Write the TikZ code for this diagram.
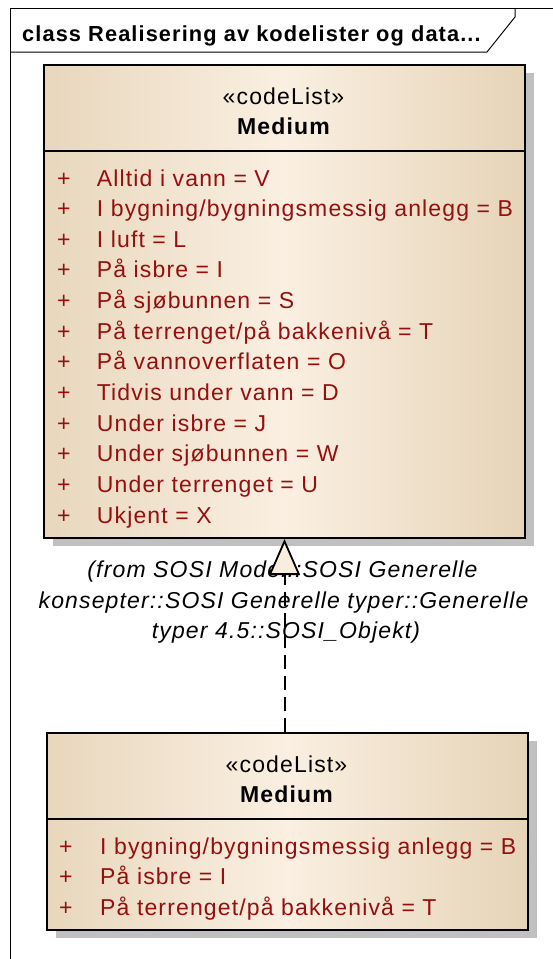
\documentclass[tikz,border=0pt]{standalone}
\usepackage{fontspec}
\setmainfont[LetterSpace=5]{Liberation Sans}
\usetikzlibrary{arrows.meta,shadows,shadings}
\definecolor{boxL}{RGB}{232,215,189}
\definecolor{boxM}{RGB}{250,239,225}
\definecolor{boxR}{RGB}{230,212,184}
\definecolor{attrRed}{RGB}{150,15,15}
\definecolor{shadowGray}{RGB}{192,192,192}
\definecolor{triFill}{RGB}{249,238,222}
\begin{document}
\begin{tikzpicture}[x=1pt,y=-1pt,
  frameline/.style={draw=black,line width=1pt},
  classbox/.style={draw=black,line width=2pt,left color=boxL,right color=boxR,middle color=boxM,
    drop shadow={shadow xshift=9pt,shadow yshift=-8pt,fill=shadowGray,opacity=1},
    inner sep=0pt,anchor=north west},
  divider/.style={draw=black,line width=1.5pt},
  stereo/.style={anchor=base,inner sep=0pt,font=\fontsize{23}{28}\selectfont},
  cname/.style={anchor=base,inner sep=0pt,font=\fontsize{23}{28}\selectfont\bfseries},
  attr/.style={anchor=base west,inner sep=0pt,text=attrRed,font=\fontsize{23}{28}\selectfont},
  lbl/.style={anchor=base,inner sep=0pt,font=\fontsize{23}{28}\selectfont\itshape},
  realize/.style={draw=black,line width=2pt,dash pattern=on 14pt off 7pt,
    -{Triangle[width=31pt,length=36pt,fill=triFill,line width=1.8pt]}}
]
\useasboundingbox (0,0) rectangle (553,959);
\fill[white] (0,0) rectangle (553,959);
% frame
\draw[frameline] (10,959) -- (10,8) -- (555,8);
\draw[frameline] (10,52) -- (487,52) -- (515,17) -- (515,8);
\node[anchor=base west,inner sep=0pt,font=\fontsize{21.8}{26}\selectfont\bfseries] (title) at (22,41) {class Realisering av kodelister og data...};

% upper class
\node[classbox,minimum width=481pt,minimum height=473pt] (upper) at (43,64) {};
\draw[divider] ([yshift=-87pt]upper.north west) -- ([yshift=-87pt]upper.north east);
\node[stereo] (ust) at (283.5,104) {«codeList»};
\node[cname] (unm) at (283.5,134) {Medium};
\foreach \t [count=\i from 0] in {Alltid i vann = V,I bygning/bygningsmessig anlegg = B,I luft = L,På isbre = I,På sjøbunnen = S,På terrenget/på bakkenivå = T,På vannoverflaten = O,Tidvis under vann = D,Under isbre = J,Under sjøbunnen = W,Under terrenget = U,Ukjent = X}{
  \node[attr] (up\i) at (57,186+30.64*\i) {+};
  \node[attr] (ua\i) at (96.7,186+30.64*\i) {\t};
}

% lower class
\node[classbox,minimum width=481pt,minimum height=197pt] (lower) at (46,732) {};
\draw[divider] ([yshift=-87pt]lower.north west) -- ([yshift=-87pt]lower.north east);
\node[stereo] (lst) at (286.5,772) {«codeList»};
\node[cname] (lnm) at (286.5,802) {Medium};
\foreach \t [count=\i from 0] in {I bygning/bygningsmessig anlegg = B,På isbre = I,På terrenget/på bakkenivå = T}{
  \node[attr] (lp\i) at (59,854+30.5*\i) {+};
  \node[attr] (la\i) at (100,854+30.5*\i) {\t};
}

% label
\node[lbl] (l1) at (282.5,577) {(from SOSI Model::SOSI Generelle};
\node[lbl] (l2) at (283.5,608) {konsepter::SOSI Generelle typer::Generelle};
\node[lbl] (l3) at (286,638) {typer 4.5::SOSI\_Objekt)};

% realization
\draw[realize] (upper.south |- lower.north) -- (upper.south);
\end{tikzpicture}
\end{document}
